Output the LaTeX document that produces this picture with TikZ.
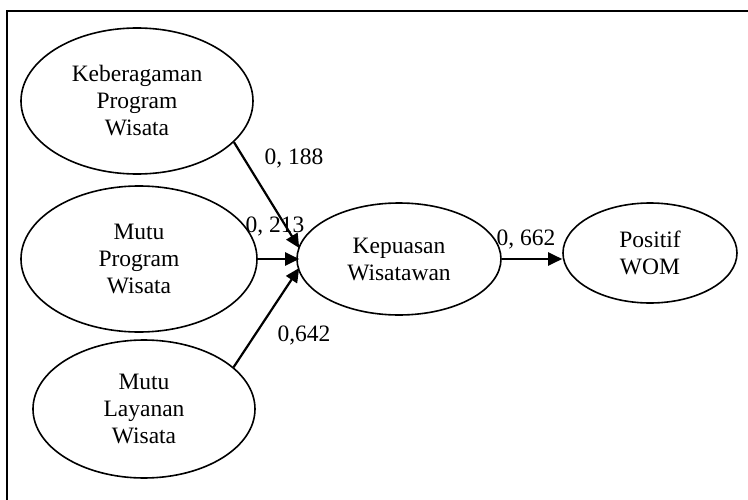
\documentclass[tikz,border=0pt]{standalone}
\usepackage{fontspec}
\setmainfont{Liberation Serif}
\usetikzlibrary{positioning}
\usetikzlibrary{shapes.geometric,arrows.meta}

\tikzset{
    latent/.style={ellipse, draw, line width=1.6pt, inner sep=0pt, align=center,
        font=\fontsize{23.5}{27}\selectfont},
    pathline/.style={line width=2.2pt, -{Triangle[length=14pt,width=13pt]}},
    coef/.style={inner sep=0pt, font=\fontsize{23.5}{27}\selectfont},
}

\begin{document}
\begin{tikzpicture}[x=1pt, y=1pt, on grid]

    \useasboundingbox (-399,-240) rectangle (349,259);

    %Frame
    \draw[line width=2pt] (-392,-270) rectangle (380,248);

    %Constructs
    \node[latent, minimum width=204pt, minimum height=112pt] (Kepuasan) at (0,0) {Kepuasan\\Wisatawan};

    \node[latent, minimum width=232pt, minimum height=146pt, above left = +158pt and +262pt of Kepuasan] (Keberagaman) {Keberagaman\\Program\\Wisata};
    \node[latent, minimum width=236pt, minimum height=146pt, left = +260pt of Kepuasan] (MutuProgram) {Mutu\\Program\\Wisata};
    \node[latent, minimum width=222pt, minimum height=138pt, below left = +150pt and +255pt of Kepuasan] (MutuLayanan) {Mutu\\Layanan\\Wisata};

    \node[latent, minimum width=174pt, minimum height=100pt, above right = +6pt and +251pt of Kepuasan] (Positif) {Positif\\WOM};

    %FOR THE ARROW TIPS
    \coordinate[above right = +11pt and +3pt of Kepuasan.west] (InA);
    \coordinate[right = +3pt of Kepuasan.west] (InB);
    \coordinate[below right = +9pt and +3pt of Kepuasan.west] (InC);

    %Paths
    \draw[pathline] (Keberagaman.-23) -- (InA);
    \draw[pathline] (MutuProgram.east) -- (InB);
    \draw[pathline] (MutuLayanan.25) -- (InC);
    \draw[pathline] (Kepuasan.east) -- (Kepuasan.east -| Positif.west);

    %-------------------------------------------
    %Labels
    \node[coef, above left = +101pt and +105pt of Kepuasan] (CoefA) {0, 188};
    \node[coef, above left = +33pt and +124pt of Kepuasan] (CoefB) {0, 213};
    \node[coef, below left = +76pt and +95pt of Kepuasan] (CoefC) {0,642};
    \node[coef, above right = +20pt and +127pt of Kepuasan] (CoefD) {0, 662};

\end{tikzpicture}
\end{document}
